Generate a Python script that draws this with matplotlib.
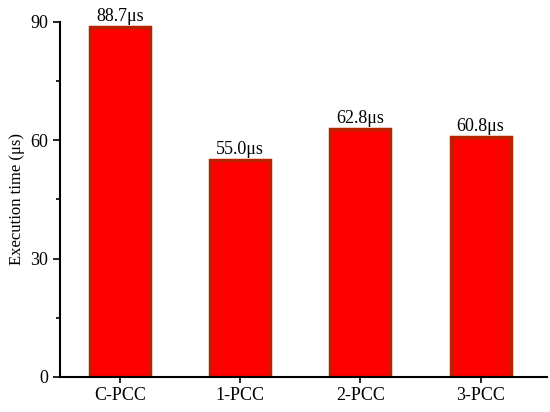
import matplotlib
matplotlib.use("Agg")
import matplotlib.pyplot as plt
from matplotlib.ticker import MultipleLocator

categories = ["C-PCC", "1-PCC", "2-PCC", "3-PCC"]
values = [88.7, 55.0, 62.8, 60.8]
labels = ["88.7μs", "55.0μs", "62.8μs", "60.8μs"]

plt.rcParams['font.family'] = ['Liberation Serif', 'DejaVu Serif']

fig = plt.figure(figsize=(5.5, 4.12), dpi=100)
ax = fig.add_axes([0.109, 0.085, 0.885, 0.862])

x = range(len(categories))
bars = ax.bar(x, values, width=0.5, color='#FF0000', edgecolor='#B82200', linewidth=2.5)
for xi, v, lab in zip(x, values, labels):
    ax.text(xi, v + 0.5, lab, ha='center', va='bottom', fontsize=13)

ax.set_xlim(-0.5, 3.55)
ax.set_ylim(0, 90)
ax.set_xticks(list(x))
ax.set_xticklabels(categories, fontsize=13)
ax.yaxis.set_major_locator(MultipleLocator(30))
ax.yaxis.set_minor_locator(MultipleLocator(15))
ax.tick_params(axis='y', which='major', labelsize=13, length=5, width=1.2, direction='out')
ax.tick_params(axis='y', which='minor', length=3, width=1.2, direction='out')
ax.tick_params(axis='x', length=4, width=1.2, direction='out')
ax.set_ylabel("Execution time (μs)", fontsize=12)
for s in ['top', 'right']:
    ax.spines[s].set_visible(False)
for s in ['left', 'bottom']:
    ax.spines[s].set_linewidth(1.5)

fig.savefig("out.png", dpi=100)
